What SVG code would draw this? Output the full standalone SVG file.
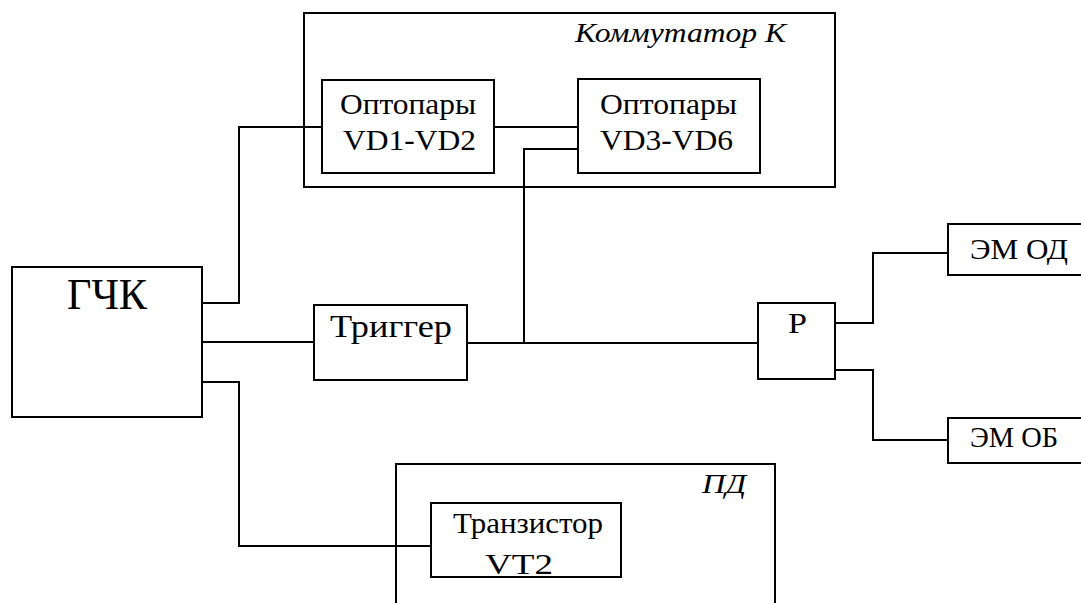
<svg xmlns="http://www.w3.org/2000/svg" width="1081" height="603" viewBox="0 0 1081 603">
  <style>
    .box { fill: none; stroke: #000; stroke-width: 2; }
    .wire { fill: none; stroke: #000; stroke-width: 2; }
    text { font-family: 'Liberation Serif', 'Times New Roman', serif; font-size: 30px; fill: #000; }
    .it { font-style: italic; font-size: 28px; }
  </style>
  <rect width="1081" height="603" fill="#fff"/>

  <!-- connectors -->
  <g id="connectors">
    <polyline class="wire" points="202,303 239,303 239,127 322,127"/>
    <line class="wire" x1="202" y1="342" x2="314" y2="342"/>
    <polyline class="wire" points="202,382 239,382 239,546 431,546"/>
    <line class="wire" x1="494" y1="127" x2="578" y2="127"/>
    <line class="wire" x1="467" y1="343" x2="758" y2="343"/>
    <polyline class="wire" points="524,343 524,149 578,149"/>
    <polyline class="wire" points="835,323 873,323 873,253 948,253"/>
    <polyline class="wire" points="835,370 873,370 873,440 948,440"/>
  </g>

  <!-- commutator K with two optocoupler blocks -->
  <g id="commutator">
    <rect class="box" x="304" y="13" width="531" height="174"/>
    <text class="it" x="575" y="42" textLength="211" lengthAdjust="spacingAndGlyphs">Коммутатор К</text>
  </g>
  <g id="opto1">
    <rect class="box" x="322" y="80" width="172" height="93"/>
    <text x="340" y="114" textLength="136" lengthAdjust="spacingAndGlyphs">Оптопары</text>
    <text x="343" y="150" textLength="133" lengthAdjust="spacingAndGlyphs">VD1-VD2</text>
  </g>
  <g id="opto2">
    <rect class="box" x="578" y="79" width="182" height="94"/>
    <text x="600" y="114" textLength="137" lengthAdjust="spacingAndGlyphs">Оптопары</text>
    <text x="600" y="150" textLength="133" lengthAdjust="spacingAndGlyphs">VD3-VD6</text>
  </g>

  <!-- generator -->
  <g id="gchk">
    <rect class="box" x="12" y="267" width="190" height="150"/>
    <text x="67" y="309" style="font-size:45px" textLength="80" lengthAdjust="spacingAndGlyphs">ГЧК</text>
  </g>

  <!-- trigger -->
  <g id="trigger">
    <rect class="box" x="314" y="305" width="153" height="75"/>
    <text x="330" y="337" style="font-size:32px" textLength="122" lengthAdjust="spacingAndGlyphs">Триггер</text>
  </g>

  <!-- relay -->
  <g id="relay">
    <rect class="box" x="758" y="303" width="77" height="76"/>
    <text x="788" y="333" textLength="19" lengthAdjust="spacingAndGlyphs">Р</text>
  </g>

  <!-- electromagnets -->
  <g id="em-od">
    <rect class="box" x="948" y="224" width="140" height="51"/>
    <text x="970" y="259" textLength="98" lengthAdjust="spacingAndGlyphs">ЭМ ОД</text>
  </g>
  <g id="em-ob">
    <rect class="box" x="948" y="418" width="140" height="45"/>
    <text x="970" y="447" textLength="88" lengthAdjust="spacingAndGlyphs">ЭМ ОБ</text>
  </g>

  <!-- PD block with transistor -->
  <g id="pd">
    <rect class="box" x="396" y="464" width="379" height="160"/>
    <text class="it" x="702" y="493" textLength="44" lengthAdjust="spacingAndGlyphs">ПД</text>
  </g>
  <g id="transistor">
    <rect class="box" x="431" y="503" width="190" height="74"/>
    <text x="453" y="533" textLength="150" lengthAdjust="spacingAndGlyphs">Транзистор</text>
    <text x="485" y="574" textLength="68" lengthAdjust="spacingAndGlyphs">VT2</text>
  </g>
</svg>
